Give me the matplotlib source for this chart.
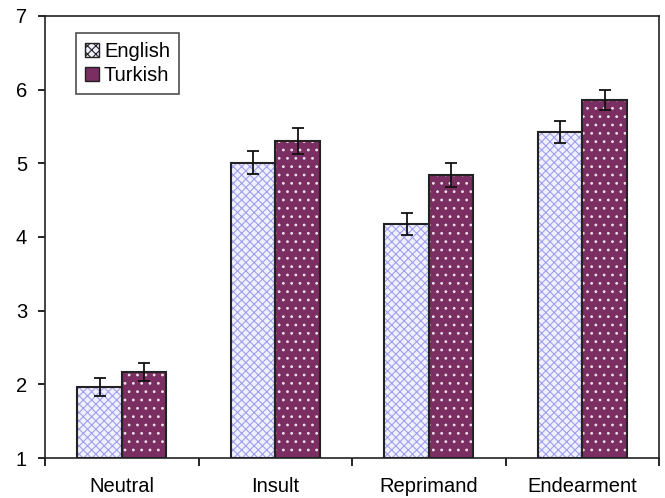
import matplotlib
matplotlib.use("Agg")
import matplotlib.pyplot as plt
import numpy as np
from matplotlib.patches import Patch

plt.rcParams['font.family'] = ['Liberation Sans', 'DejaVu Sans']

categories = ["Neutral", "Insult", "Reprimand", "Endearment"]
english = [1.96, 5.01, 4.18, 5.42]
english_err = [0.12, 0.16, 0.15, 0.15]
turkish = [2.17, 5.30, 4.84, 5.86]
turkish_err = [0.12, 0.18, 0.16, 0.13]

fig = plt.figure(figsize=(6.65, 4.98), dpi=100)
ax = fig.add_axes([0.0677, 0.0803, 0.9233, 0.8877])

x = np.arange(len(categories))
w = 0.29
eng_fc = "#f0f0ff"
eng_hc = "#a0a0ee"
tur_fc = "#7a2e62"
tur_hc = "#f0e0ea"
base = 1
plt.rcParams['hatch.linewidth'] = 0.8

# English bars
ax.bar(x - w/2, np.array(english) - base, w, bottom=base, color=eng_fc, edgecolor="none", zorder=2)
ax.bar(x - w/2, np.array(english) - base, w, bottom=base, color="none", edgecolor=eng_hc,
       hatch="xxxx", linewidth=0, zorder=3)
ax.bar(x - w/2, np.array(english) - base, w, bottom=base, color="none", edgecolor="#222222",
       linewidth=1.5, zorder=4)
# Turkish bars
ax.bar(x + w/2, np.array(turkish) - base, w, bottom=base, color=tur_fc, edgecolor="none", zorder=2)
ax.bar(x + w/2, np.array(turkish) - base, w, bottom=base, color="none", edgecolor=tur_hc,
       hatch="..", linewidth=0, zorder=3)
ax.bar(x + w/2, np.array(turkish) - base, w, bottom=base, color="none", edgecolor="#222222",
       linewidth=1.5, zorder=4)

ax.errorbar(x - w/2, english, yerr=english_err, fmt="none", ecolor="#111111",
            elinewidth=1.3, capsize=4, capthick=1.3, zorder=5)
ax.errorbar(x + w/2, turkish, yerr=turkish_err, fmt="none", ecolor="#111111",
            elinewidth=1.3, capsize=4, capthick=1.3, zorder=5)

ax.set_xlim(-0.5, 3.5)
ax.set_ylim(1, 7)
ax.set_yticks([1, 2, 3, 4, 5, 6, 7])
ax.tick_params(axis="y", direction="out", length=5, width=1.2, labelsize=14.5, pad=8)
ax.set_xticks(x)
ax.set_xticklabels(categories, fontsize=14.5)
ax.set_xticks([-0.5, 0.5, 1.5, 2.5, 3.5], minor=True)
ax.tick_params(axis="x", which="major", length=0, pad=14)
ax.tick_params(axis="x", which="minor", direction="out", length=6, width=1.2)
for s in ax.spines.values():
    s.set_linewidth(1.2)
    s.set_color("#222222")

handles = [Patch(facecolor=eng_fc, edgecolor="#222222", hatch="xxxx", linewidth=1.0),
           Patch(facecolor=tur_fc, edgecolor="#222222", linewidth=1.0)]
leg = ax.legend(handles, ["English", "Turkish"], loc="upper left", bbox_to_anchor=(0.05, 0.962),
                fontsize=14.5, frameon=True, fancybox=False, edgecolor="#222222",
                handlelength=0.7, handleheight=0.7, handletextpad=0.25, borderpad=0.45,
                labelspacing=0.25, borderaxespad=0)
leg.get_frame().set_linewidth(1.2)

fig.savefig("out.png", dpi=100)
